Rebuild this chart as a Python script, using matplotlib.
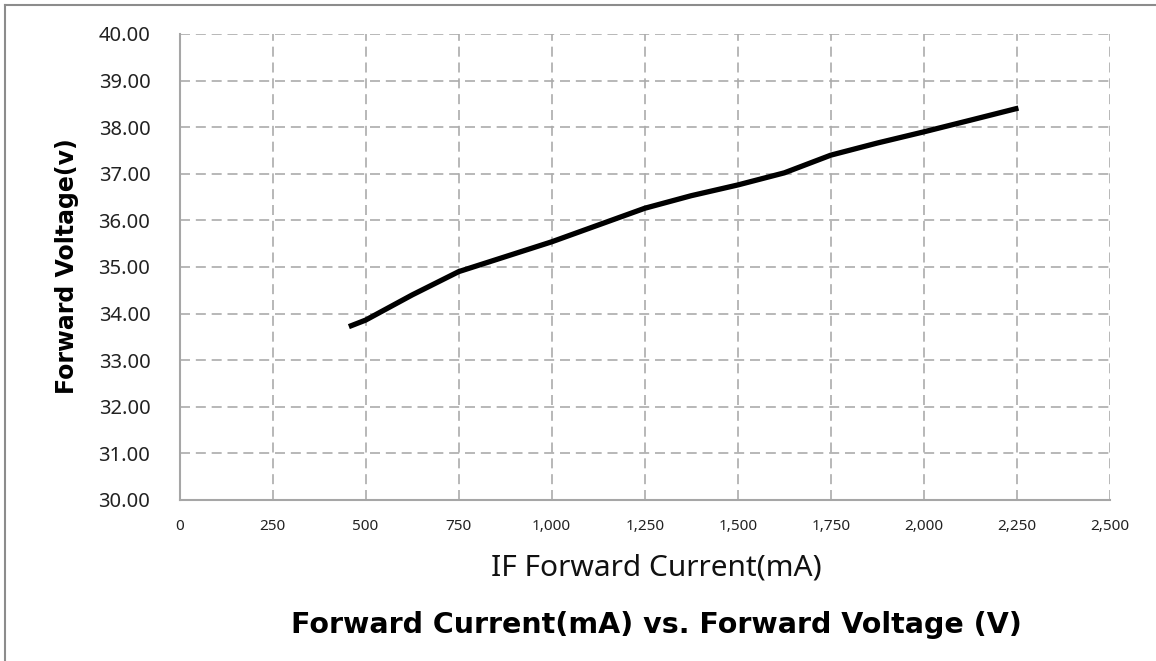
import matplotlib
matplotlib.use("Agg")
import matplotlib.pyplot as plt
from matplotlib.lines import Line2D
from matplotlib.ticker import FuncFormatter

# values
current_ma = [455, 500, 625, 750, 875, 1000, 1125, 1250, 1375, 1500, 1625, 1750, 1875, 2000, 2125, 2254]
voltage_v = [33.72, 33.86, 34.40, 34.90, 35.22, 35.54, 35.90, 36.26, 36.53, 36.76, 37.02, 37.40, 37.66, 37.90, 38.15, 38.41]

x_ticks = list(range(0, 2501, 250))
y_ticks = list(range(30, 41))

title = "Forward Current(mA) vs. Forward Voltage (V)"
x_label = "IF Forward Current(mA)"
y_label = "Forward Voltage(v)"

fig = plt.figure(figsize=(11.56, 6.61), dpi=100)
ax = fig.add_axes([0.1553, 0.2436, 0.8049, 0.705])

ax.plot(current_ma, voltage_v, color="black", lw=3.8,
        solid_capstyle="butt", solid_joinstyle="round")

ax.set_xlim(0, 2500)
ax.set_ylim(30, 40)
ax.set_xticks(x_ticks)
ax.set_yticks(y_ticks)
ax.xaxis.set_major_formatter(FuncFormatter(lambda v, p: f"{int(v):,}"))
ax.yaxis.set_major_formatter(FuncFormatter(lambda v, p: f"{v:.2f}"))

ax.grid(True, color="#ababab", lw=1.2, linestyle=(0, (6, 3.5)))
ax.set_axisbelow(True)
for s in ["top", "right"]:
    ax.spines[s].set_visible(False)
for s in ["left", "bottom"]:
    ax.spines[s].set_color("#a6a6a6")
    ax.spines[s].set_linewidth(1.5)

ax.tick_params(axis="both", length=0)
ax.tick_params(axis="y", labelsize=14.5, pad=21, labelcolor="#222222")
ax.tick_params(axis="x", labelsize=11, pad=14, labelcolor="#222222")
for lab in ax.get_xticklabels() + ax.get_yticklabels():
    lab.set_family("Noto Sans")

fig.text(656 / 1156, 1 - 568 / 661, x_label, ha="center", va="center",
         fontsize=21.5, family="Noto Sans", color="#111111")
fig.text(656 / 1156, 1 - 625 / 661, title, ha="center", va="center",
         fontsize=20.5, fontweight="bold", family="DejaVu Sans", color="black")
fig.text(67 / 1156, 1 - 266 / 661, y_label, ha="center", va="center", rotation=90,
         fontsize=17, fontweight="bold", family="DejaVu Sans", color="black")

# outer chart border (left and top edges visible in the reference)
fig.add_artist(Line2D([5 / 1156, 5 / 1156], [0, 1 - 5 / 661], transform=fig.transFigure,
                      color="#8c8c8c", lw=1.5))
fig.add_artist(Line2D([5 / 1156, 1], [1 - 5 / 661, 1 - 5 / 661], transform=fig.transFigure,
                      color="#8c8c8c", lw=1.5))

fig.savefig("out.png", dpi=100)
